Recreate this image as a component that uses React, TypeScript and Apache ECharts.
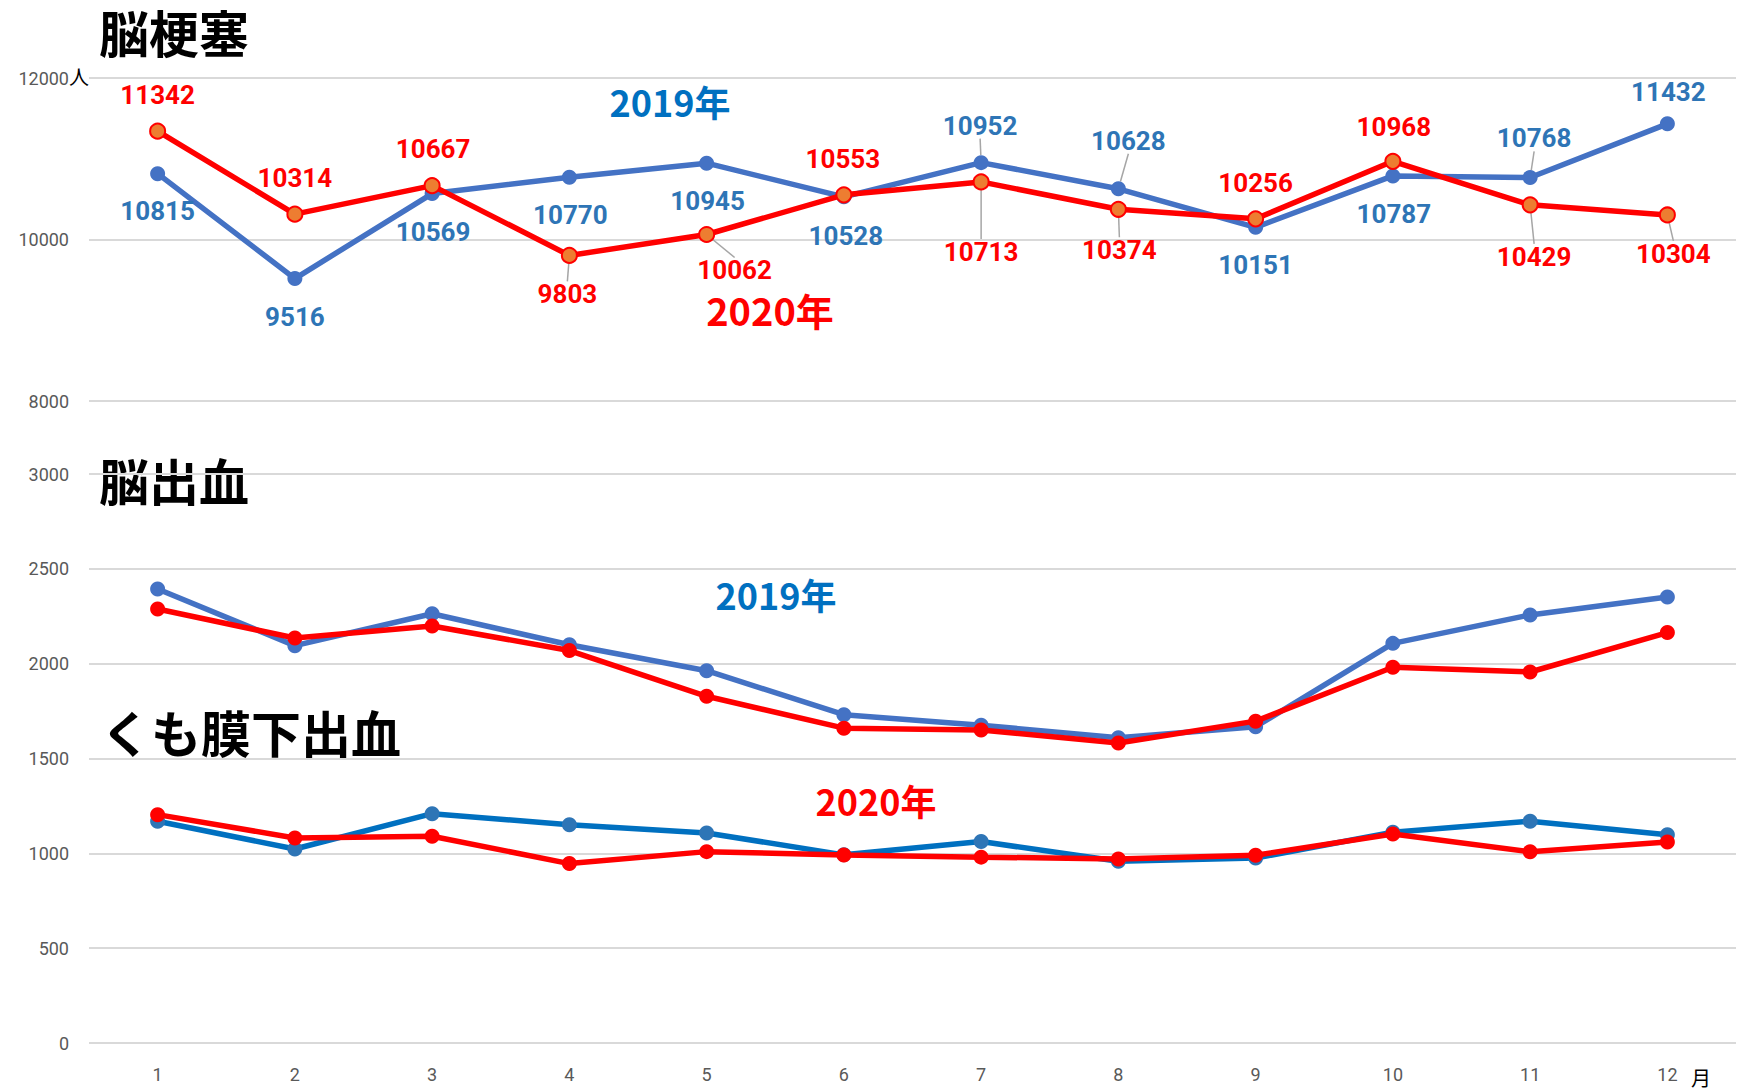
import React, { useEffect, useRef } from "react";
import * as echarts from "echarts";

const months = ["1", "2", "3", "4", "5", "6", "7", "8", "9", "10", "11", "12"];
const infarction2019 = [10815, 9516, 10569, 10770, 10945, 10528, 10952, 10628, 10151, 10787, 10768, 11432];
const infarction2020 = [11342, 10314, 10667, 9803, 10062, 10553, 10713, 10374, 10256, 10968, 10429, 10304];
const hemorrhage2019 = [2394, 2095, 2263, 2100, 1963, 1731, 1675, 1610, 1668, 2107, 2257, 2352];
const hemorrhage2020 = [2288, 2135, 2199, 2069, 1828, 1660, 1650, 1582, 1697, 1981, 1956, 2164];
const subarachnoid2019 = [1169, 1023, 1209, 1151, 1107, 992, 1062, 958, 975, 1111, 1169, 1098];
const subarachnoid2020 = [1204, 1081, 1090, 946, 1009, 991, 980, 970, 990, 1102, 1008, 1060];
const topTicks = [8000, 10000, 12000];
const bottomTicks = [0, 500, 1000, 1500, 2000, 2500, 3000];

// label layout (offsets from point centre, px)
const off2019 = [[0, 37], [0, 38], [1, 38], [1, 38], [1, 38], [2, 39], [-1, -37], [10, -48], [0, 38], [1, 38], [4, -39], [1, -32]];
const off2020 = [[0, -36], [0, -36], [1, -37], [-2, 39], [28, 36], [-1, -36], [0, 70], [1, 41], [0, -36], [1, -34], [4, 52], [6, 39]];
const leader2019 = [6, 7, 10];
const leader2020 = [3, 4, 6, 7, 10, 11];

const LABEL_FONT = "Roboto, 'Noto Sans', sans-serif";
const CJK_FONT = "'Noto Sans CJK JP', 'Noto Sans', sans-serif";

export default function App() {
  const ref = useRef<HTMLDivElement>(null);
  useEffect(() => {
    document.body.style.margin = "0";
    const chart = echarts.init(ref.current!, null, { renderer: "svg" });
    const mkData = (vals: number[], leaders: number[]) =>
      vals.map((v, i) => ({
        value: v,
        labelLine: { show: leaders.includes(i) },
      }));
    const axisLabelStyle = {
      color: "#595959", fontSize: 18, fontFamily: LABEL_FONT,
      formatter: (v: any) => String(v),
    };
    const LW = 5.5;
    const SS = 15;
    const title = (text: string, x: number, y: number) => ({
      type: "text", x, y,
      style: { text, font: `bold 50px ${CJK_FONT}`, lineHeight: 50, fill: "#000", textVerticalAlign: "top" },
    });
    const yearText = (text: string, x: number, y: number, color: string, size: number) => ({
      type: "text", x, y,
      style: { text, font: `bold ${size}px ${CJK_FONT}`, lineHeight: size - 4, fill: color, textAlign: "center", textVerticalAlign: "middle" },
    });
    const option: any = {
      animation: false,
      backgroundColor: "#ffffff",
      grid: [
        { left: 89, right: 8, top: 78, height: 323 },
        { left: 89, right: 8, top: 474, height: 569 },
      ],
      xAxis: [
        {
          gridIndex: 0, type: "category", data: months, boundaryGap: true,
          axisLine: { show: false }, axisTick: { show: false }, axisLabel: { show: false },
        },
        {
          gridIndex: 1, type: "category", data: months, boundaryGap: true,
          axisLine: { show: false }, axisTick: { show: false },
          axisLabel: { ...axisLabelStyle, margin: 22 },
        },
      ],
      yAxis: [
        {
          gridIndex: 0, type: "value", min: topTicks[0], max: topTicks[topTicks.length - 1], interval: 2000,
          axisLine: { show: false }, axisTick: { show: false },
          axisLabel: { ...axisLabelStyle, margin: 20 },
          splitLine: { lineStyle: { color: "#D9D9D9", width: 2 } },
        },
        {
          gridIndex: 1, type: "value", min: bottomTicks[0], max: bottomTicks[bottomTicks.length - 1], interval: 500,
          axisLine: { show: false }, axisTick: { show: false },
          axisLabel: { ...axisLabelStyle, margin: 20 },
          splitLine: { lineStyle: { color: "#D9D9D9", width: 2 } },
        },
      ],
      series: [
        {
          type: "line", xAxisIndex: 0, yAxisIndex: 0, data: mkData(infarction2019, leader2019),
          symbol: "circle", symbolSize: SS,
          lineStyle: { color: "#4472C4", width: LW }, itemStyle: { color: "#4472C4" },
          label: { show: true, position: "inside", color: "#2E75B6", fontSize: 26, fontWeight: "bold", fontFamily: LABEL_FONT },
          labelLayout: (p: any) => ({ dx: off2019[p.dataIndex][0], dy: off2019[p.dataIndex][1] }),
          labelLine: { lineStyle: { color: "#A6A6A6", width: 1.5 } },
          z: 2,
        },
        {
          type: "line", xAxisIndex: 0, yAxisIndex: 0, data: mkData(infarction2020, leader2020),
          symbol: "circle", symbolSize: SS,
          lineStyle: { color: "#FF0000", width: LW }, itemStyle: { color: "#ED7D31", borderColor: "#FF0000", borderWidth: 2 },
          label: { show: true, position: "inside", color: "#FF0000", fontSize: 26, fontWeight: "bold", fontFamily: LABEL_FONT },
          labelLayout: (p: any) => ({ dx: off2020[p.dataIndex][0], dy: off2020[p.dataIndex][1] }),
          labelLine: { lineStyle: { color: "#A6A6A6", width: 1.5 } },
          z: 3,
        },
        {
          type: "line", xAxisIndex: 1, yAxisIndex: 1, data: hemorrhage2019,
          symbol: "circle", symbolSize: SS,
          lineStyle: { color: "#4472C4", width: LW }, itemStyle: { color: "#4472C4" }, z: 2,
        },
        {
          type: "line", xAxisIndex: 1, yAxisIndex: 1, data: hemorrhage2020,
          symbol: "circle", symbolSize: SS,
          lineStyle: { color: "#FF0000", width: LW }, itemStyle: { color: "#FF0000" }, z: 3,
        },
        {
          type: "line", xAxisIndex: 1, yAxisIndex: 1, data: subarachnoid2019,
          symbol: "circle", symbolSize: SS,
          lineStyle: { color: "#0070C0", width: LW }, itemStyle: { color: "#2E75B6" }, z: 2,
        },
        {
          type: "line", xAxisIndex: 1, yAxisIndex: 1, data: subarachnoid2020,
          symbol: "circle", symbolSize: SS,
          lineStyle: { color: "#FF0000", width: LW }, itemStyle: { color: "#FF0000" }, z: 3,
        },
      ],
      graphic: [
        title("脳梗塞", 99, 6),
        title("脳出血", 99, 454),
        title("くも膜下出血", 101, 706),
        yearText("2019年", 670, 101, "#0070C0", 36),
        yearText("2020年", 770, 309, "#FF0000", 38),
        yearText("2019年", 776, 594, "#0070C0", 36),
        yearText("2020年", 876, 800, "#FF0000", 36),
        { type: "text", x: 79, y: 76, style: { text: "人", font: `20px ${CJK_FONT}`, fill: "#000", textAlign: "center", textVerticalAlign: "middle" } },
        { type: "text", x: 1701, y: 1077, style: { text: "月", font: `20px ${CJK_FONT}`, fill: "#000", textAlign: "center", textVerticalAlign: "middle" } },
      ],
    };
    chart.setOption(option);
    return () => chart.dispose();
  }, []);
  return <div ref={ref} style={{ width: 1744, height: 1090 }} />;
}
